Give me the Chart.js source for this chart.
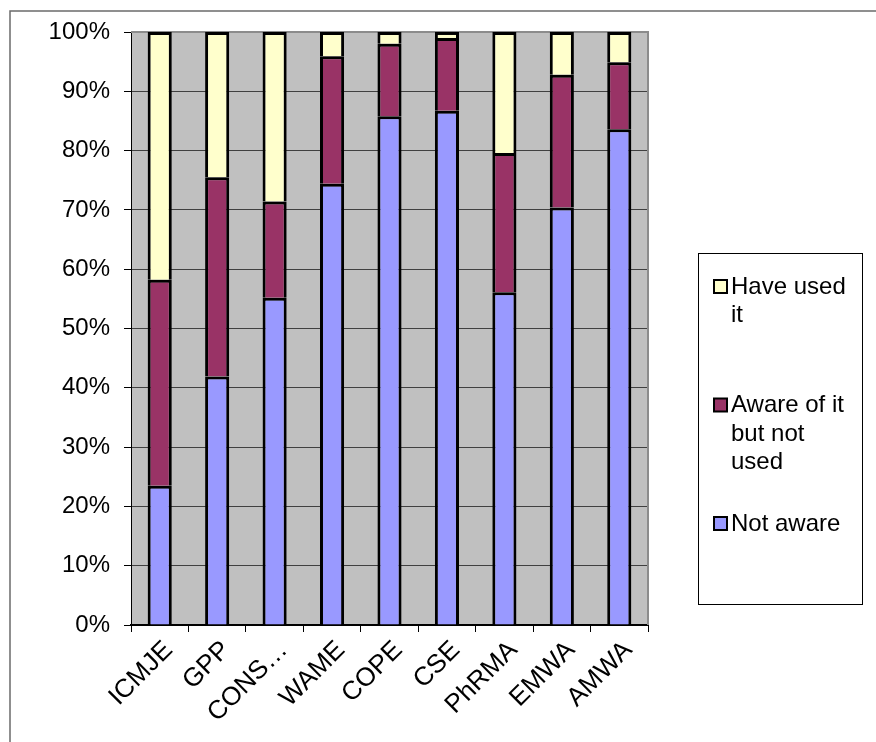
<!DOCTYPE html>
<html>
<head>
<meta charset="utf-8">
<script src="https://cdn.jsdelivr.net/npm/chart.js@4"></script>
<style>
html, body { margin: 0; padding: 0; background: #fff; }
#wrap { width: 876px; height: 742px; }
</style>
</head>
<body>
<div id="wrap"><canvas id="chart" width="876" height="742"></canvas></div>
<script>
// 分类与各部分百分比（自下而上堆叠）
const categories = ['ICMJE', 'GPP', 'CONS…', 'WAME', 'COPE', 'CSE', 'PhRMA', 'EMWA', 'AMWA'];
const notAware = [23.5, 41.9, 55.2, 74.4, 85.8, 86.7, 56.1, 70.4, 83.6];
const awareNotUsed = [34.7, 33.6, 16.2, 21.5, 12.2, 12.3, 23.5, 22.4, 11.3];
const haveUsed = [41.8, 24.5, 28.6, 4.1, 2.0, 1.0, 20.4, 7.2, 5.1];
const seriesNames = ['Not aware', 'Aware of it but not used', 'Have used it'];
const seriesColors = ['#9999ff', '#993366', '#ffffcc'];

const FONT = 'Liberation Sans, Arial, sans-serif';

// 文字按宽度换行
function wrapText(ctx, text, maxWidth) {
    const words = text.split(' ');
    const lines = [];
    let line = '';
    words.forEach(function (w) {
        const test = line ? line + ' ' + w : w;
        if (line && ctx.measureText(test).width > maxWidth) {
            lines.push(line);
            line = w;
        } else {
            line = test;
        }
    });
    if (line) lines.push(line);
    return lines;
}

// 背景、外框、图例
const framePlugin = {
    id: 'framePlugin',
    beforeDraw(chart) {
        const { ctx, chartArea: a } = chart;
        ctx.save();
        ctx.fillStyle = '#c0c0c0';
        ctx.fillRect(a.left, a.top, a.right - a.left, a.bottom - a.top);
        // 外框（左、上）
        ctx.strokeStyle = '#6b6b6b';
        ctx.lineWidth = 1.5;
        ctx.beginPath();
        ctx.moveTo(10, 742);
        ctx.lineTo(10, 11);
        ctx.lineTo(876, 11);
        ctx.stroke();
        ctx.restore();
    },
    beforeDatasetsDraw(chart) {
        const { ctx, chartArea: a } = chart;
        ctx.save();
        ctx.strokeStyle = '#8c8c8c';
        ctx.lineWidth = 2;
        ctx.beginPath();
        ctx.moveTo(a.left, a.top);
        ctx.lineTo(a.right, a.top);
        ctx.lineTo(a.right, a.bottom);
        ctx.stroke();
        ctx.restore();
    },
    afterDraw(chart) {
        const ctx = chart.ctx;
        ctx.save();
        // 图例框
        ctx.fillStyle = '#fff';
        ctx.fillRect(698, 253, 164, 351);
        ctx.strokeStyle = '#000';
        ctx.lineWidth = 1;
        ctx.strokeRect(698.5, 253.5, 164, 351);

        ctx.font = '24px ' + FONT;
        ctx.textBaseline = 'middle';
        ctx.textAlign = 'left';
        const items = chart.data.datasets.slice().reverse();
        items.forEach(function (ds, k) {
            const y0 = 287 + k * 118.5;
            ctx.fillStyle = ds.backgroundColor;
            ctx.fillRect(714, y0 - 7, 13, 13);
            ctx.strokeStyle = '#000';
            ctx.lineWidth = 2;
            ctx.strokeRect(714, y0 - 7, 13, 13);
            ctx.fillStyle = '#000';
            wrapText(ctx, ds.label, 120).forEach(function (line, i) {
                ctx.fillText(line, 731, y0 + i * 28.5);
            });
        });
        ctx.restore();
    }
};

const ctx = document.getElementById('chart').getContext('2d');

new Chart(ctx, {
    type: 'bar',
    data: {
        labels: categories,
        datasets: [notAware, awareNotUsed, haveUsed].map(function (d, i) {
            return {
                label: seriesNames[i],
                data: d,
                backgroundColor: seriesColors[i],
                borderColor: '#000',
                borderWidth: 3,
                barPercentage: 0.42,
                categoryPercentage: 1
            };
        })
    },
    options: {
        responsive: false,
        animation: false,
        events: [],
        layout: {
            padding: { top: 32, right: 228, left: 0, bottom: 0 }
        },
        plugins: {
            legend: { display: false },
            tooltip: { enabled: false }
        },
        scales: {
            x: {
                stacked: true,
                afterFit(scale) { scale.height = 117; },
                grid: {
                    offset: true,
                    drawOnChartArea: false,
                    color: '#000',
                    tickLength: 7
                },
                border: { color: '#000', width: 2 },
                ticks: {
                    autoSkip: false,
                    minRotation: 45,
                    maxRotation: 45,
                    padding: 3,
                    labelOffset: 9,
                    color: '#000',
                    font: { family: FONT, size: 26 }
                }
            },
            y: {
                stacked: true,
                min: 0,
                max: 100,
                afterFit(scale) { scale.width = 131; },
                grid: {
                    color: '#404040',
                    tickColor: '#000',
                    tickLength: 7
                },
                border: { color: '#000', width: 1 },
                ticks: {
                    stepSize: 10,
                    padding: 14,
                    color: '#000',
                    font: { family: FONT, size: 24 },
                    callback: function (v) { return v + '%'; }
                }
            }
        }
    },
    plugins: [framePlugin]
});
</script>
</body>
</html>
